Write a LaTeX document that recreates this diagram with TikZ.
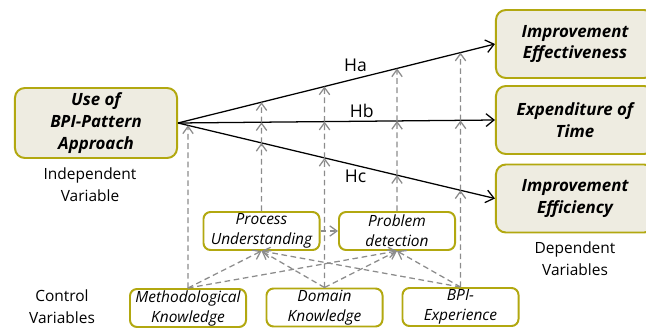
\documentclass[tikz,border=0pt]{standalone}
\usepackage{fontspec}
\setmainfont{Open Sans}
\usetikzlibrary{arrows.meta,positioning}

\definecolor{boxline}{RGB}{178,168,16}
\definecolor{boxfill}{RGB}{238,236,225}
\definecolor{ctrlgray}{RGB}{140,140,140}

\begin{document}
\begin{tikzpicture}[x=0.025cm, y=-0.025cm,
	mainbox/.style={draw=boxline, fill=boxfill, line width=1.4pt, rounded corners=7pt, align=center, inner sep=0pt, font=\fontsize{12}{15.6}\selectfont\bfseries\itshape},
	ctrlbox/.style={draw=boxline, fill=white, line width=1.4pt, rounded corners=5pt, align=center, inner sep=0pt, minimum width=2.9cm, minimum height=0.95cm, font=\fontsize{11}{14.2}\selectfont\itshape},
	caption/.style={align=center, font=\fontsize{11}{15.6}\selectfont},
	hyplab/.style={font=\fontsize{12.5}{15}\selectfont},
	hyp/.style={-{Straight Barb[length=2mm,width=3.2mm]}, line width=0.9pt},
	infl/.style={-{Straight Barb[length=1.8mm,width=2.6mm]}, ctrlgray, line width=0.9pt, dash pattern=on 4pt off 2.6pt}]
				\useasboundingbox (0,0) rectangle (646,329);
				% variables
				\node[mainbox, minimum width=4.05cm, minimum height=1.75cm] (iv) at (96,123) {Use of\\BPI-Pattern\\Approach};
				\node[mainbox, minimum width=3.95cm, minimum height=1.7cm] (dv1) at (575,44) {Improvement\\Effectiveness};
				\node[mainbox, minimum width=3.95cm, minimum height=1.7cm] (dv2) at (575,120) {Expenditure of\\Time};
				\node[mainbox, minimum width=3.95cm, minimum height=1.7cm] (dv3) at (575,198.5) {Improvement\\Efficiency};
				\node[ctrlbox] (pu) at (261.5,231) {Process\\Understanding};
				\node[ctrlbox] (pd) at (397,231) {Problem\\detection};
				\node[ctrlbox] (mk) at (188,308) {Methodological\\Knowledge};
				\node[ctrlbox] (dk) at (324.5,307.5) {Domain\\Knowledge};
				\node[ctrlbox] (be) at (460.5,307) {BPI-\\Experience};
				\node[caption] (ivlab) at (90,185) {Independent\\Variable};
				\node[caption] (dvlab) at (575,259) {Dependent\\Variables};
				\node[caption] (cvlab) at (62,307) {Control\\Variables};
				% hypotheses
				\draw[hyp] (iv.east) to node[hyplab, pos=0.56, above=1.5pt] {Ha} (dv1.west);
				\draw[hyp] (iv.east) to node[hyplab, pos=0.58, above=-1pt] {Hb} (dv2.west);
				\draw[hyp] (iv.east) to node[hyplab, pos=0.56, below=-0.5pt] {Hc} (dv3.west);
				% influences
				\foreach \n in {pu,dk,pd,be} {
					\coordinate (\n-a) at (intersection of iv.east--dv1.west and \n.north--\n.south);
					\coordinate (\n-b) at (intersection of iv.east--dv2.west and \n.north--\n.south);
					\coordinate (\n-c) at (intersection of iv.east--dv3.west and \n.north--\n.south);
					\draw[infl] (\n.north) -- (\n-c);
					\draw[infl] (\n-c) -- (\n-b);
					\draw[infl] (\n-b) -- (\n-a);
				}
				\coordinate (mk-c) at (intersection of iv.east--dv3.west and mk.north--mk.south);
				\draw[infl] (mk.north) -- (mk-c);
				\foreach \c in {mk,dk,be}
					\foreach \t in {pu,pd}
						\draw[infl] (\c.north) -- (\t.south);
				\draw[infl] (pu) -- (pd);
			\end{tikzpicture}
\end{document}
